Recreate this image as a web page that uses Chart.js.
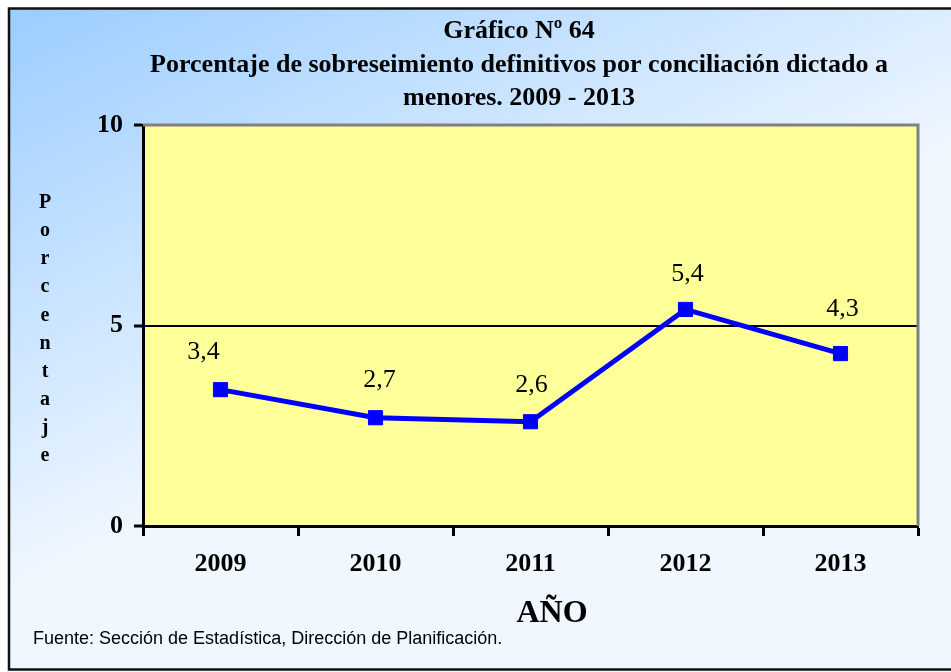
<!DOCTYPE html>
<html>
<head>
<meta charset="utf-8">
<script src="https://cdn.jsdelivr.net/npm/chart.js@4/dist/chart.umd.min.js"></script>
<style>
  html, body { margin: 0; padding: 0; background: #ffffff; }
  #wrap { width: 951px; height: 672px; position: relative; }
</style>
</head>
<body>
<div id="wrap"><canvas id="chart" width="951" height="672"></canvas></div>
<script>
// Sobreseimientos definitivos por conciliación dictados a menores (%)
const years = ['2009', '2010', '2011', '2012', '2013'];
const percentages = [3.4, 2.7, 2.6, 5.4, 4.3];
const valueLabels = ['3,4', '2,7', '2,6', '5,4', '4,3'];
const yTicks = [0, 5, 10];

const titleLines = [
  'Gráfico Nº 64',
  'Porcentaje de sobreseimiento definitivos por conciliación dictado a',
  'menores. 2009 - 2013'
];
const yTitle = 'Porcentaje';
const xTitle = 'AÑO';
const sourceNote = 'Fuente: Sección de Estadística, Dirección de Planificación.';

const SERIF = '"Liberation Serif", "Times New Roman", serif';
const SANS = '"Liberation Sans", Arial, sans-serif';

// Frame, gradient backdrop and plot-area fill
const backdrop = {
  id: 'backdrop',
  beforeDraw(chart) {
    const { ctx, width, height, chartArea: a } = chart;
    ctx.save();
    ctx.fillStyle = '#ffffff';
    ctx.fillRect(0, 0, width, height);
    const g = ctx.createLinearGradient(0, 0, 230, 491);
    g.addColorStop(0, '#99ccff');
    g.addColorStop(1, '#f0f7ff');
    ctx.fillStyle = g;
    ctx.fillRect(8, 8, width, height);
    ctx.lineWidth = 2.5;
    ctx.strokeStyle = '#111111';
    ctx.strokeRect(9, 8.5, width + 10, height - 11);
    ctx.fillStyle = '#ffff99';
    ctx.fillRect(a.left, a.top, a.right - a.left, a.bottom - a.top);
    ctx.restore();
  },
  beforeDatasetsDraw(chart) {
    const { ctx, chartArea: a } = chart;
    ctx.save();
    ctx.strokeStyle = '#808080';
    ctx.lineWidth = 3;
    ctx.beginPath();
    ctx.moveTo(a.left, a.top);
    ctx.lineTo(a.right, a.top);
    ctx.lineTo(a.right, a.bottom);
    ctx.stroke();
    ctx.restore();
  }
};

// Titles, stacked axis caption and source note
const captions = {
  id: 'captions',
  afterDraw(chart) {
    const { ctx } = chart;
    ctx.save();
    ctx.fillStyle = '#000000';
    ctx.textAlign = 'center';
    ctx.textBaseline = 'middle';
    ctx.font = 'bold 26px ' + SERIF;
    const titleY = [31, 65, 98];
    titleLines.forEach((t, i) => ctx.fillText(t, 519, titleY[i]));

    ctx.font = 'bold 20px ' + SERIF;
    yTitle.split('').forEach((ch, i) => ctx.fillText(ch, 45, 203 + i * 28.1));

    ctx.font = 'bold 32px ' + SERIF;
    ctx.fillText(xTitle, 552, 614);

    ctx.textAlign = 'left';
    ctx.textBaseline = 'alphabetic';
    ctx.font = '18px ' + SANS;
    ctx.fillText(sourceNote, 33, 644);
    ctx.restore();
  }
};

// Value labels above each point
const valueTags = {
  id: 'valueTags',
  afterDatasetsDraw(chart, args, opts) {
    const { ctx } = chart;
    const meta = chart.getDatasetMeta(0);
    ctx.save();
    ctx.fillStyle = '#000000';
    ctx.font = '26px ' + SERIF;
    ctx.textAlign = 'center';
    ctx.textBaseline = 'middle';
    meta.data.forEach((pt, i) => {
      const o = opts.offsets[i];
      ctx.fillText(valueLabels[i], pt.x + o[0], pt.y + o[1]);
    });
    ctx.restore();
  }
};

new Chart(document.getElementById('chart'), {
  type: 'line',
  data: {
    labels: years,
    datasets: [{
      data: percentages,
      borderColor: '#0000ff',
      backgroundColor: '#0000ff',
      borderWidth: 5,
      tension: 0,
      pointStyle: 'rect',
      pointRadius: 10,
      pointBorderWidth: 1,
      pointBorderColor: '#0000ff',
      pointBackgroundColor: '#0000ff'
    }]
  },
  options: {
    responsive: false,
    animation: false,
    devicePixelRatio: 1,
    layout: { padding: { left: 0, top: 125, right: 33, bottom: 0 } },
    plugins: {
      legend: { display: false },
      title: { display: false },
      tooltip: { enabled: false },
      valueTags: { offsets: [[-17, -37], [4, -38], [1, -37], [2, -35], [2, -44]] }
    },
    scales: {
      x: {
        type: 'category',
        offset: true,
        afterFit(s) { s.height = 146; },
        grid: {
          offset: true,
          drawOnChartArea: false,
          drawTicks: true,
          tickLength: 10,
          tickColor: '#000000',
          tickWidth: 3
        },
        border: { display: true, color: '#000000', width: 3 },
        ticks: {
          color: '#000000',
          padding: 13,
          font: { family: SERIF, size: 26, weight: 'bold' }
        }
      },
      y: {
        min: 0,
        max: 10,
        afterFit(s) { s.width = 143; },
        afterBuildTicks(s) { s.ticks = yTicks.map(v => ({ value: v })); },
        grid: {
          color: c => (c.tick && c.tick.value === 5 ? '#000000' : 'rgba(0,0,0,0)'),
          lineWidth: 2,
          tickLength: 9,
          tickColor: '#000000',
          tickWidth: 3
        },
        border: { display: true, color: '#000000', width: 3 },
        ticks: {
          color: '#000000',
          padding: 11,
          font: { family: SERIF, size: 26, weight: 'bold' }
        }
      }
    }
  },
  plugins: [backdrop, captions, valueTags]
});
</script>
</body>
</html>
